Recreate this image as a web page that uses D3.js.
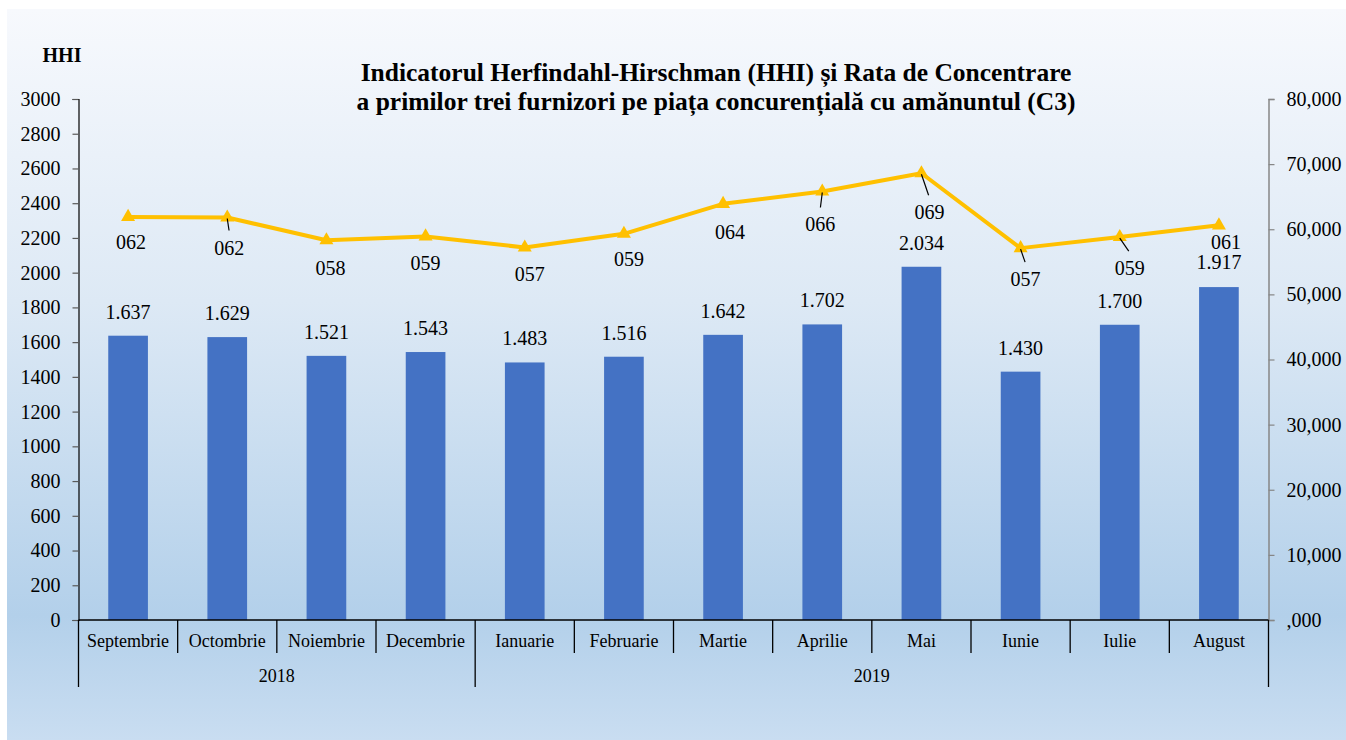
<!DOCTYPE html>
<html>
<head>
<meta charset="utf-8">
<script src="https://cdn.jsdelivr.net/npm/d3@7"></script>
<style>
  html, body { margin: 0; padding: 0; background: #ffffff; }
  svg { display: block; }
  text { font-family: "Liberation Serif", "Times New Roman", serif; fill: #000; }
</style>
</head>
<body>
<svg id="chart" width="1346" height="740"></svg>
<script>
// ---------- DATA ----------
const months = ["Septembrie","Octombrie","Noiembrie","Decembrie","Ianuarie","Februarie","Martie","Aprilie","Mai","Iunie","Iulie","August"];
const years = [
  { label: "2018", start: 0, end: 3 },
  { label: "2019", start: 4, end: 11 }
];
const hhiValues = [1637, 1629, 1521, 1543, 1483, 1516, 1642, 1702, 2034, 1430, 1700, 1917];
const c3Values = [61.9, 61.8, 58.3, 58.9, 57.2, 59.3, 63.9, 65.8, 68.6, 57.1, 58.8, 60.6];
const leftTicks = [0,200,400,600,800,1000,1200,1400,1600,1800,2000,2200,2400,2600,2800,3000];
const rightTicks = [0,10,20,30,40,50,60,70,80];
const titleLines = [
  "Indicatorul Herfindahl-Hirschman (HHI) și Rata de Concentrare",
  "a primilor trei furnizori pe piața concurențială cu amănuntul (C3)"
];
const leftAxisTitle = "HHI";

// label placement tweaks for the line labels (pixel offsets, style only)
const c3LabelOffsets = [[3,32],[2,37],[4,35],[0,34],[5,34],[5,32],[7,35],[-2,40],[8,46],[5,38],[10,38],[7,24]];
const c3Leaders = [false,true,false,false,false,false,false,true,true,true,true,false];

// ---------- LAYOUT ----------
const W = 1346, H = 740;
const plot = { left: 78.5, right: 1268.5, top: 99, bottom: 620 };
const svg = d3.select("#chart");

// background gradient
const defs = svg.append("defs");
const grad = defs.append("linearGradient").attr("id","bg").attr("x1",0).attr("y1",0).attr("x2",0).attr("y2",1);
grad.append("stop").attr("offset","0%").attr("stop-color","#f7f9fd");
grad.append("stop").attr("offset","40%").attr("stop-color","#dde9f5");
grad.append("stop").attr("offset","83%").attr("stop-color","#b3d0ea");
grad.append("stop").attr("offset","100%").attr("stop-color","#c9ddf1");
svg.append("rect").attr("x",7).attr("y",9).attr("width",W-7).attr("height",H-9).attr("fill","url(#bg)");

// scales
const x = d3.scaleBand().domain(months).range([plot.left, plot.right]).paddingInner(0).paddingOuter(0);
const yL = d3.scaleLinear().domain([0,3000]).range([plot.bottom, plot.top]);
const yR = d3.scaleLinear().domain([0,80]).range([plot.bottom, plot.top]);
const barW = x.bandwidth() * 0.4;

// bars
svg.append("g").selectAll("rect").data(hhiValues).join("rect")
  .attr("x",(d,i)=>x(months[i]) + x.bandwidth()/2 - barW/2)
  .attr("y",d=>yL(d))
  .attr("width",barW)
  .attr("height",d=>yL(0)-yL(d))
  .attr("fill","#4472c4");

// bar labels
const fmtHHI = v => d3.format(",")(v).replace(/,/g,".");
svg.append("g").selectAll("text").data(hhiValues).join("text")
  .attr("x",(d,i)=>x(months[i]) + x.bandwidth()/2)
  .attr("y",(d,i)=>yL(d) - (i === hhiValues.length-1 ? 18 : 17))
  .attr("text-anchor","middle")
  .attr("font-size",20)
  .text(fmtHHI);

// left axis
const axL = svg.append("g").attr("transform",`translate(${plot.left},0)`)
  .call(d3.axisLeft(yL).tickValues(leftTicks).tickSize(6).tickPadding(12).tickFormat(d3.format("d")));
axL.select(".domain").attr("stroke","#000").attr("stroke-width",1.2);
axL.selectAll(".tick line").attr("stroke","#595959").attr("stroke-width",1.2);
axL.selectAll(".tick text").attr("font-size",20).attr("font-family","Liberation Serif, serif").attr("fill","#000");

// right axis
const fmtR = v => v === 0 ? ",000" : d3.format("d")(v) + ",000";
const axR = svg.append("g").attr("transform",`translate(${plot.right},0)`)
  .call(d3.axisRight(yR).tickValues(rightTicks).tickSize(6).tickPadding(12).tickFormat(fmtR));
axR.select(".domain").attr("stroke","#868686").attr("stroke-width",1.5);
axR.selectAll(".tick line").attr("stroke","#868686").attr("stroke-width",1.2);
axR.selectAll(".tick text").attr("font-size",20).attr("font-family","Liberation Serif, serif").attr("fill","#000");

// bottom category axis (two level)
const cat = svg.append("g");
cat.append("line").attr("x1",plot.left).attr("x2",plot.right).attr("y1",plot.bottom).attr("y2",plot.bottom)
  .attr("stroke","#000").attr("stroke-width",1.5);
const yearBoundaries = new Set();
years.forEach(yv => { yearBoundaries.add(yv.start); yearBoundaries.add(yv.end+1); });
d3.range(months.length+1).forEach(i => {
  const bx = i < months.length ? x(months[i]) : x(months[months.length-1]) + x.bandwidth();
  const long = yearBoundaries.has(i);
  cat.append("line").attr("x1",bx).attr("x2",bx).attr("y1",plot.bottom).attr("y2", long ? 687 : 653)
    .attr("stroke", "#000").attr("stroke-width",1.3);
});
cat.selectAll("text.m").data(months).join("text").attr("class","m")
  .attr("x",d=>x(d)+x.bandwidth()/2).attr("y",647)
  .attr("text-anchor","middle").attr("font-size",18).text(d=>d);
cat.selectAll("text.y").data(years).join("text").attr("class","y")
  .attr("x",d=>(x(months[d.start]) + x(months[d.end]) + x.bandwidth())/2).attr("y",682)
  .attr("text-anchor","middle").attr("font-size",18).text(d=>d.label);

// line
const line = d3.line().x((d,i)=>x(months[i]) + x.bandwidth()/2).y(d=>yR(d));
svg.append("path").datum(c3Values).attr("d",line).attr("fill","none")
  .attr("stroke","#ffc000").attr("stroke-width",4).attr("stroke-linejoin","round");
const tri = d3.symbol().type(d3.symbolTriangle).size(85);
svg.append("g").selectAll("path").data(c3Values).join("path")
  .attr("transform",(d,i)=>`translate(${x(months[i]) + x.bandwidth()/2},${yR(d)})`)
  .attr("d",tri).attr("fill","#ffc000");

// leader lines + line labels
const fmtC3 = v => d3.format("03d")(Math.round(v));
c3Values.forEach((v,i) => {
  const px = x(months[i]) + x.bandwidth()/2, py = yR(v);
  const [dx,dy] = c3LabelOffsets[i];
  if (c3Leaders[i]) {
    svg.append("line").attr("x1",px).attr("y1",py+1).attr("x2",px+dx*0.9).attr("y2",py+dy-24)
      .attr("stroke","#000").attr("stroke-width",1.2);
  }
  svg.append("text").attr("x",px+dx).attr("y",py+dy).attr("text-anchor","middle").attr("font-size",20).text(fmtC3(v));
});

// titles
svg.append("text").attr("x",62).attr("y",62).attr("text-anchor","middle").attr("font-size",20).attr("font-weight","bold").text(leftAxisTitle);
svg.selectAll("text.title").data(titleLines).join("text").attr("class","title")
  .attr("x",716).attr("y",(d,i)=>81 + i*29).attr("text-anchor","middle")
  .attr("font-size",25.5).attr("font-weight","bold").text(d=>d);
</script>
</body>
</html>
